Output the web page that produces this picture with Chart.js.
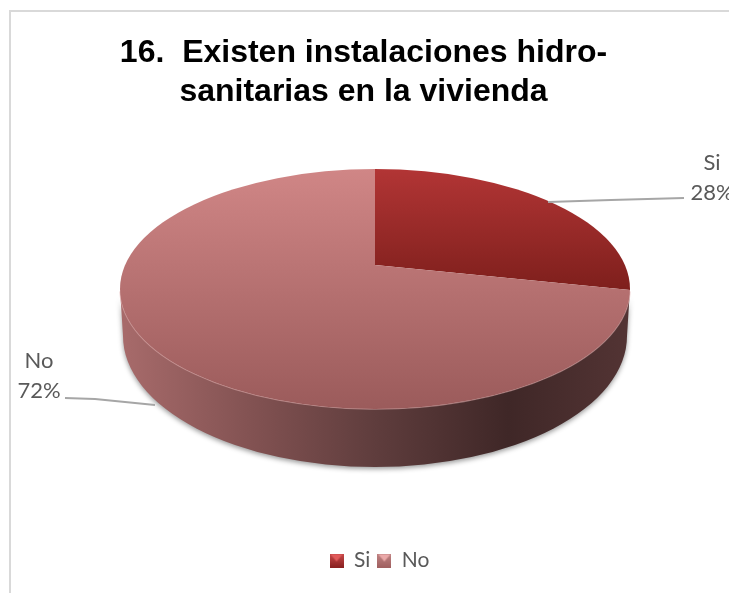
<!DOCTYPE html>
<html>
<head>
<meta charset="utf-8">
<title>Instalaciones hidro-sanitarias</title>
<script src="https://cdn.jsdelivr.net/npm/chart.js@4"></script>
<style>
    html, body { margin: 0; background: #fff; overflow: hidden; width: 729px; height: 593px; }
    #marco { position: absolute; left: 9px; top: 10px; width: 760px; height: 620px; border: 2px solid #d9d9d9; }
    canvas { position: absolute; left: 0; top: 0; }
</style>
</head>
<body>
<div id="marco"><canvas id="grafico" width="737" height="569"></canvas></div>
<script>
const categorias = ['Si', 'No'];
const valores = [28, 72];
const titulo = ['16.  Existen instalaciones hidro-', 'sanitarias en la vivienda'];

// el canvas empieza en (11,12) de la pagina
const OX = 11, OY = 12;

// elipse de la cara superior, en pixeles del canvas
const elipse = { x: 375 - OX, y: 289 - OY, rx: 255, ry: 120 };
const base = { x: 375 - OX, y: 336 - OY, rx: 252, ry: 131 };
const vertice = { x: 375 - OX, y: 265 - OY };
const ESCALA_Y = 0.515;
const RADIO = 320; // mas grande que la elipse, luego se recorta

function vista(chart) {
    const a = chart.chartArea;
    const R = Math.min(a.right - a.left, a.bottom - a.top) / 2;
    const sx = RADIO / R;
    return { cx: (a.left + a.right) / 2, cy: (a.top + a.bottom) / 2, sx: sx, sy: sx * ESCALA_Y };
}

// gradiente vertical dado en pixeles de la pagina, pasado al espacio del arco
function gradiente(chart, y0, y1, c0, c1) {
    const v = vista(chart);
    const g = chart.ctx.createLinearGradient(0, v.cy + (y0 - OY - vertice.y) / v.sy, 0, v.cy + (y1 - OY - vertice.y) / v.sy);
    g.addColorStop(0, c0);
    g.addColorStop(1, c1);
    return g;
}

function colorSector(c) {
    if (!c.chart.chartArea) return '#999';
    if (c.dataIndex === 0) return gradiente(c.chart, 169, 290, '#b23535', '#7e1f1c');
    return gradiente(c.chart, 169, 409, '#d08686', '#9b5b5b');
}

function cuadrito(c0, c1, c2) {
    const cv = document.createElement('canvas');
    cv.width = 14; cv.height = 14;
    const x = cv.getContext('2d');
    const g = x.createLinearGradient(0, 0, 0, 14);
    g.addColorStop(0, c1);
    g.addColorStop(1, c0);
    x.fillStyle = g;
    x.fillRect(0, 0, 14, 14);
    x.fillStyle = c2;
    x.beginPath();
    x.moveTo(1, 1); x.lineTo(13, 1); x.lineTo(7, 8);
    x.fill();
    return cv;
}

const tresD = {
    id: 'tresD',
    beforeDatasetsDraw(chart) {
        const ctx = chart.ctx;
        const v = vista(chart);

        // pared lateral
        const g = ctx.createLinearGradient(120 - OX, 0, 630 - OX, 0);
        g.addColorStop(0, '#a86b6b');
        g.addColorStop(0.28, '#7f5050');
        g.addColorStop(0.5, '#5f3d3d');
        g.addColorStop(0.76, '#3f2727');
        g.addColorStop(1, '#533434');
        ctx.save();
        ctx.shadowColor = 'rgba(0,0,0,0.4)';
        ctx.shadowBlur = 5;
        ctx.shadowOffsetY = 2;
        ctx.fillStyle = g;
        ctx.beginPath();
        ctx.ellipse(elipse.x, elipse.y, elipse.rx, elipse.ry, 0, Math.PI, 0, true);
        ctx.lineTo(base.x + base.rx, base.y);
        ctx.ellipse(base.x, base.y, base.rx, base.ry, 0, 0, Math.PI);
        ctx.closePath();
        ctx.fill();
        ctx.restore();

        // borde claro de la cara superior
        ctx.save();
        ctx.strokeStyle = 'rgba(225,175,175,0.55)';
        ctx.lineWidth = 1.5;
        ctx.beginPath();
        ctx.ellipse(elipse.x, elipse.y, elipse.rx, elipse.ry, 0, 0.02, Math.PI - 0.02);
        ctx.stroke();
        ctx.restore();

        // los sectores se aplastan y se recortan a la elipse
        ctx.save();
        ctx.beginPath();
        ctx.ellipse(elipse.x, elipse.y, elipse.rx, elipse.ry, 0, 0, Math.PI * 2);
        ctx.clip();
        ctx.translate(vertice.x, vertice.y);
        ctx.scale(v.sx, v.sy);
        ctx.translate(-v.cx, -v.cy);
    },
    afterDatasetsDraw(chart) {
        chart.ctx.restore();
    },
    beforeDraw(chart) {
        // el titulo va algo a la izquierda del centro del marco
        const t = chart.titleBlock;
        if (!t._movido) {
            t.left -= 16;
            t.right -= 16;
            t._movido = true;
        }
    }
};

const etiquetas = {
    id: 'etiquetas',
    afterDraw(chart) {
        const ctx = chart.ctx;
        const sitios = [
            { x: 712, y: 163, linea: [[548, 202], [611, 200], [684, 198]] },
            { x: 39, y: 361, linea: [[65, 398], [95, 399], [155, 405]] }
        ];
        ctx.save();
        ctx.translate(-OX, -OY);
        categorias.forEach((cat, i) => {
            const s = sitios[i];
            ctx.strokeStyle = '#a6a6a6';
            ctx.lineWidth = 2;
            ctx.beginPath();
            s.linea.forEach((p, k) => k ? ctx.lineTo(p[0], p[1]) : ctx.moveTo(p[0], p[1]));
            ctx.stroke();
            ctx.fillStyle = '#595959';
            ctx.font = '22px Lato';
            ctx.textAlign = 'center';
            ctx.textBaseline = 'middle';
            ctx.fillText(cat, s.x, s.y);
            ctx.fillText(valores[i] + '%', s.x, s.y + 30);
        });
        ctx.restore();
    }
};

const marcas = [cuadrito('#8a2020', '#c84a4a', '#e05a5a'), cuadrito('#a06060', '#c08484', '#eaa8a8')];

new Chart(document.getElementById('grafico'), {
    type: 'pie',
    data: {
        labels: categorias,
        datasets: [{
            data: valores,
            backgroundColor: colorSector,
            borderWidth: 0,
            clip: false
        }]
    },
    options: {
        responsive: false,
        animation: false,
        plugins: {
            tooltip: { enabled: false },
            title: {
                display: true,
                text: titulo,
                color: '#000',
                font: { family: 'Liberation Sans', size: 32, weight: 'bold', lineHeight: 1.22 },
                padding: { top: 22, bottom: 10 }
            },
            legend: {
                position: 'bottom',
                labels: {
                    usePointStyle: true,
                    pointStyleWidth: 14,
                    font: { family: 'Lato', size: 21 },
                    color: '#595959',
                    padding: 7,
                    generateLabels: () => categorias.map((c, i) => ({
                        text: c,
                        pointStyle: marcas[i],
                        index: i,
                        fontColor: '#595959',
                        lineWidth: 0
                    }))
                }
            }
        }
    },
    plugins: [tresD, etiquetas]
});
</script>
</body>
</html>
